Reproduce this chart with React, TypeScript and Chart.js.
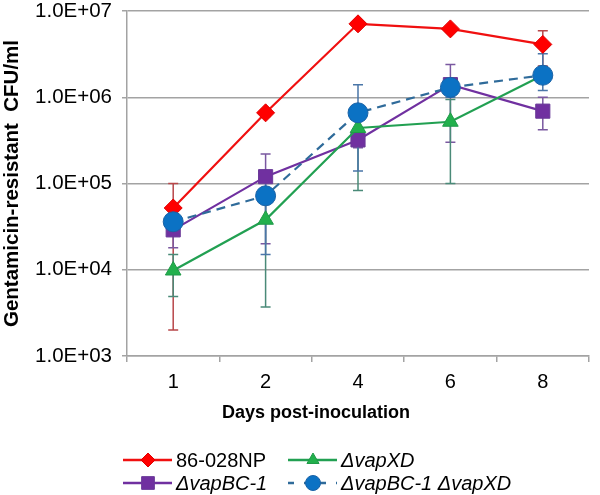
import React, { useEffect, useRef } from 'react';
import { Chart, registerables } from 'chart.js';

Chart.register(...registerables);

// ---- data ----
const DAYS = ['1', '2', '4', '6', '8'];

const Y_TICKS = [1e3, 1e4, 1e5, 1e6, 1e7];
const Y_LABELS = ['1.0E+03', '1.0E+04', '1.0E+05', '1.0E+06', '1.0E+07'];

const WT = [5.2e4, 6.6e5, 7.1e6, 6.2e6, 4.1e6];
const WT_LO = [2.0e3, 6.0e5, 6.7e6, 5.8e6, 2.3e6];
const WT_HI = [1.0e5, 7.2e5, 7.5e6, 6.6e6, 5.9e6];

const BC1 = [2.9e4, 1.2e5, 3.2e5, 1.4e6, 6.9e5];
const BC1_LO = [1.8e4, 2.0e4, 2.6e5, 3.0e5, 4.2e5];
const BC1_HI = [4.0e4, 2.2e5, 3.9e5, 2.4e6, 1.0e6];

const XD = [9.8e3, 3.8e4, 4.4e5, 5.2e5, 1.8e6];
const XD_LO = [4.9e3, 3.7e3, 8.3e4, 1.0e5, 1.5e6];
const XD_HI = [1.5e4, 7.2e4, 8.0e5, 9.4e5, 2.1e6];

const BC1XD = [3.6e4, 7.2e4, 6.6e5, 1.3e6, 1.8e6];
const BC1XD_LO = [2.8e4, 1.5e4, 1.4e5, 1.0e6, 1.2e6];
const BC1XD_HI = [4.5e4, 1.3e5, 1.4e6, 1.6e6, 3.2e6];

const SERIES_NAMES = ['86-028NP', '\u0394vapBC-1', '\u0394vapXD', '\u0394vapBC-1 \u0394vapXD'];

// ---- styles ----
const FONT = '"Liberation Sans", Arial, Helvetica, sans-serif';
const GRID = '#a3a3a3';

type Style = {
  line: string; fill: string; edge: string; err: string; shape: string;
  radius: number; legendRadius: number; dash: number[]; italic: boolean;
};

const STYLES: Style[] = [
  { line: '#f01010', fill: '#ff0000', edge: '#e00000', err: '#b8474a', shape: 'rectRot', radius: 9, legendRadius: 7, dash: [], italic: false },
  { line: '#7030a0', fill: '#7030a0', edge: '#6a3a98', err: '#7a58a0', shape: 'rect', radius: 10, legendRadius: 9, dash: [], italic: true },
  { line: '#22a052', fill: '#22b04c', edge: '#1f9a48', err: '#4a8a78', shape: 'triangle', radius: 9, legendRadius: 7, dash: [], italic: true },
  { line: '#2f6b9a', fill: '#0b72c4', edge: '#1a62a6', err: '#4a76a8', shape: 'circle', radius: 10, legendRadius: 7.5, dash: [9, 6], italic: true },
];

function drawShape(ctx: CanvasRenderingContext2D, shape: string, x: number, y: number, r: number) {
  ctx.beginPath();
  if (shape === 'rectRot') {
    ctx.moveTo(x, y - r); ctx.lineTo(x + r, y); ctx.lineTo(x, y + r); ctx.lineTo(x - r, y);
    ctx.closePath();
  } else if (shape === 'rect') {
    const s = r * Math.SQRT1_2;
    ctx.rect(x - s, y - s, 2 * s, 2 * s);
  } else if (shape === 'triangle') {
    ctx.moveTo(x, y - r);
    ctx.lineTo(x + r * 0.866, y + r * 0.5);
    ctx.lineTo(x - r * 0.866, y + r * 0.5);
    ctx.closePath();
  } else {
    ctx.arc(x, y, r, 0, Math.PI * 2);
  }
}

const errorBarPlugin = {
  id: 'errorBars',
  beforeDatasetsDraw(chart: any) {
    const { ctx } = chart;
    const ys = chart.scales.y;
    [0, 1, 2, 3].forEach((i) => {
      const ds = chart.data.datasets[i];
      const meta = chart.getDatasetMeta(i);
      ctx.save();
      ctx.strokeStyle = ds.errColor;
      ctx.lineWidth = 1.5;
      meta.data.forEach((pt: any, j: number) => {
        const x = pt.x;
        const yl = ys.getPixelForValue(ds.errLo[j]);
        const yh = ys.getPixelForValue(ds.errHi[j]);
        ctx.beginPath();
        ctx.moveTo(x, yl); ctx.lineTo(x, yh);
        ctx.moveTo(x - 5, yl); ctx.lineTo(x + 5, yl);
        ctx.moveTo(x - 5, yh); ctx.lineTo(x + 5, yh);
        ctx.stroke();
      });
      ctx.restore();
    });
  },
};

const extrasPlugin = {
  id: 'extras',
  afterDraw(chart: any) {
    const { ctx } = chart;
    ctx.save();
    // x-axis title
    ctx.fillStyle = '#000';
    ctx.font = `bold 18px ${FONT}`;
    ctx.textAlign = 'center';
    ctx.textBaseline = 'middle';
    ctx.fillText('Days post-inoculation', 316, 413);

    // legend (2 columns x 2 rows)
    const slots = [
      { idx: 0, x: 123, y: 460 },
      { idx: 2, x: 288, y: 460 },
      { idx: 1, x: 123, y: 483 },
      { idx: 3, x: 288, y: 483 },
    ];
    slots.forEach(({ idx, x, y }) => {
      const st = STYLES[idx];
      ctx.save();
      ctx.strokeStyle = st.line;
      ctx.lineWidth = 2.5;
      ctx.setLineDash(st.dash.length ? [6, 10] : []);
      ctx.beginPath();
      ctx.moveTo(x, y); ctx.lineTo(x + 49, y);
      ctx.stroke();
      ctx.setLineDash([]);
      ctx.fillStyle = st.fill;
      ctx.strokeStyle = st.edge;
      ctx.lineWidth = 1;
      drawShape(ctx, st.shape, x + 25, y, st.legendRadius);
      ctx.fill();
      ctx.stroke();
      ctx.fillStyle = '#000';
      ctx.font = `${st.italic ? 'italic ' : ''}20px ${FONT}`;
      ctx.textAlign = 'left';
      ctx.textBaseline = 'middle';
      ctx.fillText(SERIES_NAMES[idx], x + 53, y + 1);
      ctx.restore();
    });
    ctx.restore();
  },
};

function makeDataset(i: number, data: number[], lo: number[], hi: number[], order: number) {
  const st = STYLES[i];
  return {
    label: SERIES_NAMES[i],
    data,
    errLo: lo,
    errHi: hi,
    errColor: st.err,
    borderColor: st.line,
    borderWidth: 2.2,
    borderDash: st.dash,
    backgroundColor: st.fill,
    pointStyle: st.shape,
    pointRadius: st.radius,
    pointBackgroundColor: st.fill,
    pointBorderColor: st.edge,
    pointBorderWidth: 1,
    tension: 0,
    fill: false,
    order,
  };
}

export default function App() {
  const ref = useRef<HTMLCanvasElement | null>(null);

  useEffect(() => {
    if (!ref.current) return;
    const chart = new Chart(ref.current, {
      type: 'line',
      data: {
        labels: DAYS,
        datasets: [
          makeDataset(0, WT, WT_LO, WT_HI, 3),
          makeDataset(1, BC1, BC1_LO, BC1_HI, 2),
          makeDataset(2, XD, XD_LO, XD_HI, 1),
          makeDataset(3, BC1XD, BC1XD_LO, BC1XD_HI, 0),
        ] as any,
      },
      options: {
        responsive: false,
        maintainAspectRatio: false,
        animation: false,
        layout: { padding: { top: 10, right: 3, left: 0, bottom: 99 } },
        plugins: {
          legend: { display: false },
          tooltip: { enabled: false },
        },
        scales: {
          x: {
            type: 'category',
            offset: true,
            grid: { offset: true, drawOnChartArea: false, drawTicks: true, tickLength: 6, color: GRID, lineWidth: 1.5 },
            border: { color: GRID, width: 1.5 },
            ticks: { color: '#000', font: { family: FONT, size: 20 }, padding: 8, maxRotation: 0 },
            afterFit: (s: any) => { s.height = 40; s.paddingLeft = 0; s.paddingRight = 0; },
          },
          y: {
            type: 'logarithmic',
            min: 1e3,
            max: 1e7,
            afterBuildTicks: (s: any) => { s.ticks = Y_TICKS.map((v) => ({ value: v, major: true })); },
            ticks: {
              autoSkip: false,
              color: '#000',
              font: { family: FONT, size: 20.5, lineHeight: 1 },
              padding: 10,
              callback: (v: any) => {
                const k = Y_TICKS.indexOf(Number(v));
                return k >= 0 ? Y_LABELS[k] : '';
              },
            },
            grid: { color: GRID, lineWidth: 1.5, tickLength: 5 },
            border: { color: GRID, width: 1.5 },
            title: {
              display: true,
              text: 'Gentamicin-resistant  CFU/ml',
              color: '#000',
              font: { family: FONT, size: 20.5, weight: 'bold' },
              padding: { top: 0, bottom: 0 },
            },
            afterFit: (s: any) => { s.width = 127; s.paddingTop = 0; s.paddingBottom = 0; },
          },
        },
      } as any,
      plugins: [errorBarPlugin, extrasPlugin],
    });
    return () => chart.destroy();
  }, []);

  return (
    <div style={{ position: 'absolute', left: 0, top: 0, width: 600, height: 495, background: '#fff' }}>
      <canvas ref={ref} width={600} height={495} style={{ display: 'block' }} />
    </div>
  );
}
